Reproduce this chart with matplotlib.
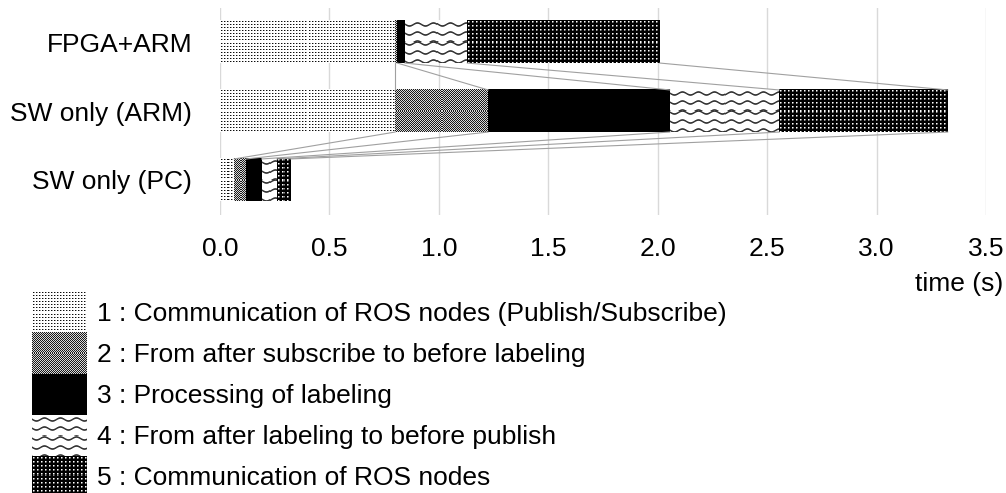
import numpy as np
import matplotlib
matplotlib.use('Agg')
import matplotlib.pyplot as plt

plt.rcParams['font.family'] = ['Liberation Sans', 'DejaVu Sans']

# ---------------------------------------------------------------------------
# data (seconds)
categories = ['FPGA+ARM', 'SW only (ARM)', 'SW only (PC)']
seg_names = ['1 : Communication of ROS nodes (Publish/Subscribe)',
             '2 : From after subscribe to before labeling',
             '3 : Processing of labeling',
             '4 : From after labeling to before publish',
             '5 : Communication of ROS nodes']
fpga_arm = [0.80, 0.01, 0.035, 0.285, 0.88]
sw_arm = [0.80, 0.425, 0.83, 0.50, 0.77]
sw_pc = [0.065, 0.055, 0.07, 0.07, 0.06]
xticks = [0.0, 0.5, 1.0, 1.5, 2.0, 2.5, 3.0, 3.5]

#-----------------------------------------------------------------------
def make_tile(kind):
    """Pixel tiles imitating the Excel fill patterns (0 = black, 1 = white)"""
    if kind == 'dots':
        t = np.ones((3, 3))
        t[1, 1] = 0.05; t[1, 2] = 0.6
    elif kind == 'checker':
        t = np.array([[0.1, 0.85], [0.85, 0.1]])
    elif kind == 'solid':
        t = np.zeros((1, 1))
    elif kind == 'wave':
        w, h = 16, 9
        t = np.ones((h, w))
        for x in range(w):
            yc = 4 + 1.5 * np.sin(2 * np.pi * x / w)
            for y in range(h):
                t[y, x] = np.clip(abs(y - yc) - 0.35, 0, 1) * 0.8 + 0.2
        t[t > 0.99] = 1.0
    else:  # dark with white dots
        t = np.zeros((4, 4))
        t[1, 1] = 1.0; t[1, 2] = 0.55; t[2, 1] = 0.55; t[2, 2] = 0.25
    return t

patterns = ['dots', 'checker', 'solid', 'wave', 'darkdots']

def fill_texture(ax, x0, x1, y0, y1, tile):
    """Fill a data-space box with a pixel tile, one tile pixel per screen pixel"""
    p0 = ax.transData.transform((x0, y0))
    p1 = ax.transData.transform((x1, y1))
    w = max(1, int(round(abs(p1[0] - p0[0]))))
    h = max(1, int(round(abs(p1[1] - p0[1]))))
    reps = (h // tile.shape[0] + 2, w // tile.shape[1] + 2)
    img = np.tile(tile, reps)[:h, :w]
    ax.imshow(img, cmap='gray', vmin=0, vmax=1, extent=(x0, x1, y0, y1),
              interpolation='nearest', aspect='auto', zorder=2)

#--------------------------------------------------------------------------------
# main
W, H = 1006, 493
fig = plt.figure(figsize=(W / 100, H / 100), dpi=100)
ax = fig.add_axes([220 / W, 1 - 214.5 / H, 766 / W, 207 / H])

rows = [fpga_arm, sw_arm, sw_pc]
ypos = np.arange(len(categories))[::-1]
bh = 0.61
xmin, xmax = 0.0, 3.5
ax.set_xlim(xmin, xmax)
ax.set_ylim(-0.5, len(categories) - 0.5)

cums = []
for r, y in zip(rows, ypos):
    vals = np.array(r)
    lefts = np.concatenate([[0], np.cumsum(vals)[:-1]])
    cums.append(np.cumsum(vals))
    bars = ax.barh([y] * len(vals), vals, left=lefts, height=bh,
                   color='white', edgecolor='none', zorder=1)
    for b, pat in zip(bars, patterns):
        fill_texture(ax, b.get_x(), b.get_x() + b.get_width(),
                     b.get_y(), b.get_y() + b.get_height(), make_tile(pat))

# series lines between neighbouring bars
for i in range(len(rows) - 1):
    for k in range(len(patterns)):
        ax.plot([cums[i][k], cums[i + 1][k]],
                [ypos[i] - bh / 2, ypos[i + 1] + bh / 2],
                color='#a0a0a0', lw=0.8, zorder=3)

ax.set_xlim(xmin, xmax)
ax.set_ylim(-0.5, len(categories) - 0.5)
ax.set_xticks(xticks)
ax.set_xticklabels(['%.1f' % t for t in xticks])
ax.set_yticks(ypos)
ax.set_yticklabels(categories)
ax.tick_params(axis='x', length=0, pad=16, labelsize=19)
ax.tick_params(axis='y', length=0, pad=20, labelsize=19)
ax.xaxis.grid(True, color='#d9d9d9', lw=1)
ax.set_axisbelow(True)
for s in ax.spines.values():
    s.set_visible(False)

fig.text(1003 / W, 1 - 284 / H, 'time (s)', ha='right', va='center', fontsize=19)

# legend drawn in pixel coordinates
lax = fig.add_axes([0, 0, 1, 1])
lax.set_xlim(0, W)
lax.set_ylim(H, 0)
lax.axis('off')
top, rh = 292, 41.2
for k, (name, pat) in enumerate(zip(seg_names, patterns)):
    y0 = top + k * rh
    fill_texture(lax, 32, 87, y0 + rh, y0, make_tile(pat))
    lax.text(97, y0 + rh / 2 + 1, name, ha='left', va='center', fontsize=19)
lax.set_xlim(0, W)
lax.set_ylim(H, 0)

plt.savefig('out.png', dpi=100)
plt.close()
